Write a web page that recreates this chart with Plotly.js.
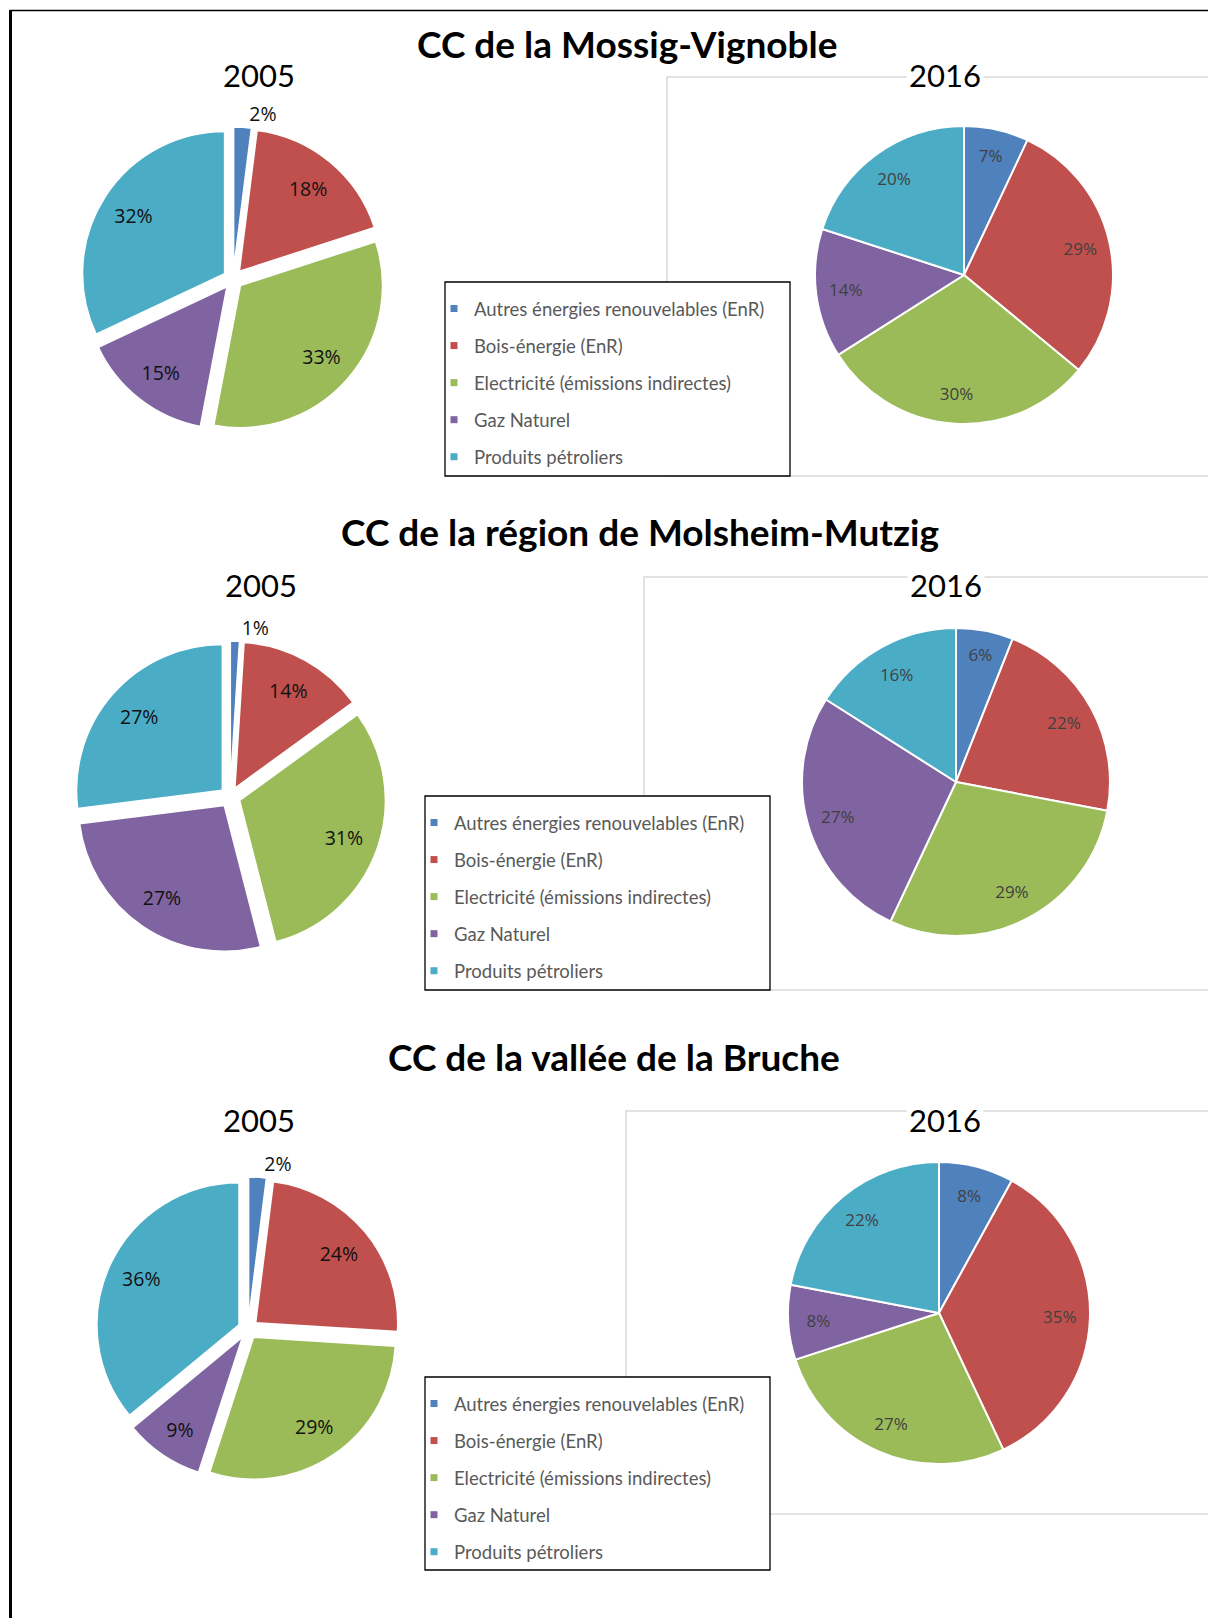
<!DOCTYPE html>
<html>
<head>
<meta charset="utf-8">
<script src="https://cdn.plot.ly/plotly-3.0.1.min.js"></script>
<style>html,body{margin:0;padding:0;background:#fff;}#chart{width:1208px;height:1618px;}</style>
</head>
<body>
<div id="chart"></div>
<script>
// ---------- data ----------
const categories = [
  'Autres énergies renouvelables (EnR)',
  'Bois-énergie (EnR)',
  'Electricité (émissions indirectes)',
  'Gaz Naturel',
  'Produits pétroliers'
];
const sectionTitles = [
  'CC de la Mossig-Vignoble',
  'CC de la région de Molsheim-Mutzig',
  'CC de la vallée de la Bruche'
];
const years = ['2005', '2016'];
const mossig2005 = [2, 18, 33, 15, 32];
const mossig2016 = [7, 29, 30, 14, 20];
const molsheim2005 = [1, 14, 31, 27, 27];
const molsheim2016 = [6, 22, 29, 27, 16];
const bruche2005 = [2, 24, 29, 9, 36];
const bruche2016 = [8, 35, 27, 8, 22];

// ---------- styles ----------
const colors = ['#4F81BD', '#C0504D', '#9BBB59', '#8064A2', '#4BACC6'];
const W = 1208, H = 1618;
const fx = p => p / W;
const fy = p => 1 - p / H;

// layout boxes (pixels)
const sections = [
  {v05: mossig2005, v16: mossig2016,
   d05: [81, 385, 125, 433], d16: [815, 1113, 126, 424],
   title: [627, 43], y05: [259, 75], y16: [945, 75],
   gray: [667, 77, 476], legBox: [445, 282, 790, 476], legPos: [434, 290]},
  {v05: molsheim2005, v16: molsheim2016,
   d05: [74, 386, 641, 953], d16: [802, 1110, 628, 936],
   title: [640, 531], y05: [261, 585], y16: [946, 585],
   gray: [644, 577, 990], legBox: [425, 796, 770, 990], legPos: [414, 804]},
  {v05: bruche2005, v16: bruche2016,
   d05: [96, 400, 1177, 1481], d16: [788, 1090, 1162, 1464],
   title: [614, 1056], y05: [259, 1120], y16: [945, 1120],
   gray: [626, 1111, 1514], legBox: [425, 1377, 770, 1570], legPos: [414, 1385]}
];
const legendIds = ['legend', 'legend2', 'legend3'];

const traces = [];
const annotations = [];
const shapes = [];
const layout = {
  width: W, height: H,
  margin: {l: 0, r: 0, t: 0, b: 0},
  paper_bgcolor: '#ffffff',
  plot_bgcolor: 'rgba(0,0,0,0)',
  showlegend: true,
  xaxis: {visible: false, domain: [0, 0.01]},
  yaxis: {visible: false, domain: [0, 0.01]},
  font: {family: 'Lato, sans-serif'}
};

// outer frame
shapes.push({type: 'line', xref: 'paper', yref: 'paper', x0: fx(10), x1: fx(1210), y0: fy(10.5), y1: fy(10.5),
  line: {color: '#000', width: 1.5}, layer: 'below'});
shapes.push({type: 'line', xref: 'paper', yref: 'paper', x0: fx(10.5), x1: fx(10.5), y0: fy(10), y1: fy(1620),
  line: {color: '#000', width: 3}, layer: 'below'});

const transparent = categories.map(() => 'rgba(0,0,0,0)');

function piePair(values, dom, exploded) {
  const domain = {x: [fx(dom[0]), fx(dom[1])], y: [fy(dom[3]), fy(dom[2])]};
  const pull = exploded ? 0.07 : 0;
  const base = {
    type: 'pie', labels: categories, values: values, sort: false, direction: 'clockwise', rotation: 0,
    domain: domain, pull: pull,
    marker: {colors: colors, line: {color: '#ffffff', width: exploded ? 1.5 : 2}},
    textinfo: 'none', showlegend: false, hoverinfo: 'skip'
  };
  // same slices, transparent, used only to carry the percentage labels further out
  const labelFont = exploded
    ? {family: 'Open Sans, sans-serif', size: 19.5, color: '#111111'}
    : {family: 'Open Sans, sans-serif', size: 17, color: '#404040'};
  const labels = {
    type: 'pie', labels: categories, values: values, sort: false, direction: 'clockwise', rotation: 0,
    domain: domain, pull: pull, hole: exploded ? 0.52 : 0.6,
    marker: {colors: transparent, line: {width: 0}},
    texttemplate: '%{value}%',
    textposition: exploded ? ['outside', 'inside', 'inside', 'inside', 'inside'] : 'inside',
    insidetextorientation: 'horizontal',
    insidetextfont: labelFont, outsidetextfont: labelFont,
    showlegend: false, hoverinfo: 'skip'
  };
  return [base, labels];
}

sections.forEach((s, i) => {
  // gray chart-area box of the 2016 chart
  shapes.push({type: 'rect', xref: 'paper', yref: 'paper', layer: 'below',
    x0: fx(s.gray[0]), x1: fx(1215), y0: fy(s.gray[1]), y1: fy(s.gray[2]),
    line: {color: '#D9D9D9', width: 1.5}, fillcolor: 'rgba(0,0,0,0)'});
  // legend frame
  shapes.push({type: 'rect', xref: 'paper', yref: 'paper', layer: 'below',
    x0: fx(s.legBox[0]), x1: fx(s.legBox[2]), y0: fy(s.legBox[1]), y1: fy(s.legBox[3]),
    line: {color: '#000', width: 1.3}, fillcolor: '#ffffff'});

  traces.push(...piePair(s.v05, s.d05, true));
  traces.push(...piePair(s.v16, s.d16, false));

  // legend entries
  categories.forEach((c, k) => {
    traces.push({
      type: 'scatter', mode: 'markers', x: [null], y: [null], name: c,
      marker: {symbol: 'square', size: 7, color: colors[k]},
      legend: legendIds[i], legendgroup: 'g' + i + '_' + k, showlegend: true, hoverinfo: 'skip'
    });
  });
  layout[legendIds[i]] = {
    x: fx(s.legPos[0]), xanchor: 'left', y: fy(s.legPos[1]), yanchor: 'top',
    bgcolor: 'rgba(0,0,0,0)', borderwidth: 0,
    font: {family: 'Lato, sans-serif', size: 18.5, color: '#595959'},
    tracegroupgap: 10, traceorder: 'grouped', itemclick: false, itemdoubleclick: false
  };

  // titles
  annotations.push({xref: 'paper', yref: 'paper', x: fx(s.title[0]), y: fy(s.title[1]),
    xanchor: 'center', yanchor: 'middle', showarrow: false, text: sectionTitles[i],
    font: {family: 'Lato, sans-serif', size: 37, color: '#000', weight: 'bold'}});
  annotations.push({xref: 'paper', yref: 'paper', x: fx(s.y05[0]), y: fy(s.y05[1]),
    xanchor: 'center', yanchor: 'middle', showarrow: false, text: years[0],
    font: {family: 'Lato, sans-serif', size: 31, color: '#000'}});
  annotations.push({xref: 'paper', yref: 'paper', x: fx(s.y16[0]), y: fy(s.y16[1]),
    xanchor: 'center', yanchor: 'middle', showarrow: false, text: years[1], bgcolor: '#ffffff', borderpad: 2,
    font: {family: 'Lato, sans-serif', size: 31, color: '#000'}});
});

layout.shapes = shapes;
layout.annotations = annotations;

Plotly.newPlot('chart', traces, layout, {displayModeBar: false});
</script>
</body>
</html>
